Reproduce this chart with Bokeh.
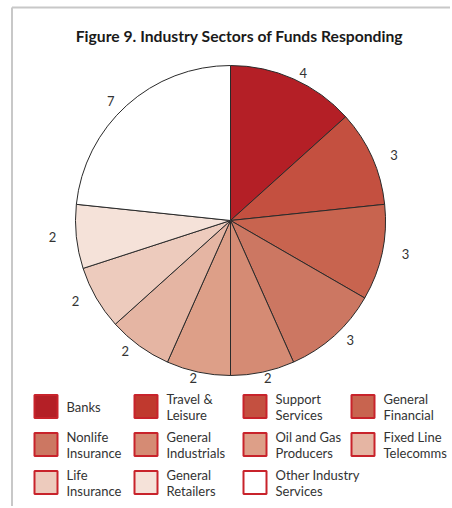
import math
from bokeh.plotting import figure
from bokeh.models import Range1d, ColumnDataSource
from bokeh.core.properties import value
from bokeh.embed import file_html
from bokeh.resources import INLINE

# ---------------- data ----------------
title_text = "Figure 9. Industry Sectors of Funds Responding"
categories = ["Banks", "Travel &\nLeisure", "Support\nServices", "General\nFinancial",
              "Nonlife\nInsurance", "General\nIndustrials", "Oil and Gas\nProducers",
              "Fixed Line\nTelecomms", "Life\nInsurance", "General\nRetailers",
              "Other Industry\nServices"]
counts = [4, 0, 3, 3, 3, 2, 2, 2, 2, 2, 7]
colors = ["#b41f26", "#c0392e", "#c45040", "#c8644f", "#cc7762", "#d58b74",
          "#dd9f88", "#e5b5a3", "#edcbbd", "#f5e2d9", "#ffffff"]

# ---------------- layout ----------------
W, H = 450, 506
def X(px): return px
def Y(py): return H - py

p = figure(width=W, height=H, output_backend="svg", toolbar_location=None,
           x_range=Range1d(0, W), y_range=Range1d(0, H), min_border=0)
p.axis.visible = False
p.grid.visible = False
p.outline_line_color = None
p.background_fill_color = "white"

# frame border (left and top)
p.segment(x0=[X(11.5), X(11.5)], y0=[Y(7), Y(7)], x1=[X(11.5), W], y1=[0, Y(7)],
          line_color="#c8c8c8", line_width=2)

# title
p.text(x=[X(239)], y=[Y(35)], text=[title_text], text_font=value("Lato"),
       text_font_style="bold", text_font_size="15.7px", text_color="#1a1a1a",
       text_align="center", text_baseline="middle")

# pie
cx, cy, R = X(230), Y(220), 155
RX, RY = 179, 161
total = sum(counts)
starts, ends, fills, lx, ly, lt = [], [], [], [], [], []
cum = 0.0
for c, col in zip(counts, colors):
    if c == 0:
        continue
    a0 = cum / total * 2 * math.pi
    cum += c
    a1 = cum / total * 2 * math.pi
    starts.append(math.pi / 2 - a1)
    ends.append(math.pi / 2 - a0)
    fills.append(col)
    mid = (a0 + a1) / 2
    lx.append(cx + RX * math.sin(mid))
    ly.append(cy + RY * math.cos(mid))
    lt.append(str(c))

src = ColumnDataSource(dict(x=[cx] * len(starts), y=[cy] * len(starts),
                            start=starts, end=ends, fill=fills))
p.wedge(x="x", y="y", radius=R, radius_units="screen", start_angle="start",
        end_angle="end", direction="anticlock", fill_color="fill",
        line_color="#2a2a2a", line_width=1, source=src)

p.text(x=lx, y=ly, text=lt, text_font=value("Lato"), text_font_size="13px",
       text_color="#333333", text_align="center", text_baseline="middle")

# legend
col_x = [33, 133, 242, 350]
row_y = [406, 444, 482]
sx, sy, tx = [], [], []
for i in range(len(categories)):
    c, r = i % 4, i // 4
    sx.append(X(col_x[c] + 12.5))
    sy.append(Y(row_y[r]))
    tx.append(X(col_x[c] + 33))
p.rect(x=sx, y=sy, width=23, height=23, width_units="screen", height_units="screen",
       fill_color=colors, line_color="#c8232b", line_width=2)
p.text(x=tx, y=sy, text=categories, text_font=value("Lato"), text_font_size="13px",
       text_color="#333333", text_align="left", text_baseline="middle",
       text_line_height=1.0)

open("out.html", "w").write(file_html(p, INLINE))
